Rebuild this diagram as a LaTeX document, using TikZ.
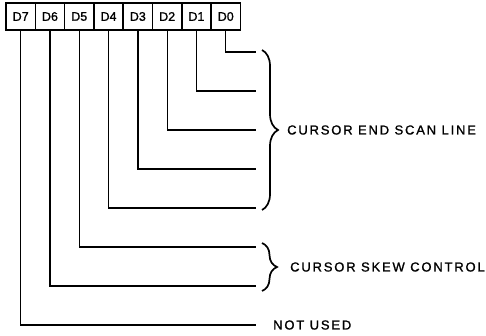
\documentclass[tikz,border=0pt]{standalone}
\usepackage{fontspec}
\setmainfont{Liberation Sans}
\newfontfamily\fuenteCampo[LetterSpace=14,FakeBold=1.2]{Liberation Sans}
\newfontfamily\fuenteBit[FakeBold=1.2]{Liberation Sans}
\usetikzlibrary{
	positioning,
	decorations.pathreplacing
}
\tikzset{
	celdaBit/.style={
		draw,
		line width=1.5pt,
		minimum width=29.3pt,
		minimum height=27pt,
		inner sep=0pt,
		outer sep=0pt,
		font=\fuenteBit\fontsize{12.5}{12.5}\selectfont
	},
	lineaBit/.style={
		line width=1.3pt
	},
	llaveCampo/.style={
		decorate,
		decoration={brace, amplitude=16pt},
		line width=1.7pt
	},
	textoCampo/.style={
		anchor=west,
		inner sep=0pt,
		font=\fuenteCampo\fontsize{13}{13}\selectfont
	}
}

\begin{document}
\begin{tikzpicture}[x=1pt, y=-1pt]
		\useasboundingbox (0,0) rectangle (486,335);
		% registro de bits
		\node[celdaBit, anchor=north west] (d7) at (6,3) {D7};
		\foreach \n/\p in {6/7,5/6,4/5,3/4,2/3,1/2,0/1}{
			\node[celdaBit, right=0pt of d\p] (d\n) {D\n};
		}
		% salidas de cada bit
		\foreach \n/\y in {0/52,1/91,2/130,3/169,4/208,5/247,6/286,7/325}{
			\coordinate (fin\n) at (256,\y);
			\draw[lineaBit] (d\n.south) |- (fin\n);
		}
		% llaves de los campos
		\coordinate (llaveScanA) at (262,50);
		\coordinate (llaveScanB) at (262,210);
		\coordinate (llaveSkewA) at (262,243);
		\coordinate (llaveSkewB) at (262,291);
		\draw[llaveCampo] (llaveScanA) -- (llaveScanB);
		\draw[llaveCampo, decoration={amplitude=15pt}] (llaveSkewA) -- (llaveSkewB);
		\node[textoCampo] (campoScan) at (287,130) {CURSOR END SCAN LINE};
		\node[textoCampo] (campoSkew) at (290,267) {CURSOR SKEW CONTROL};
		\node[textoCampo] (campoLibre) at (273,325) {NOT USED};
	\end{tikzpicture}
\end{document}
